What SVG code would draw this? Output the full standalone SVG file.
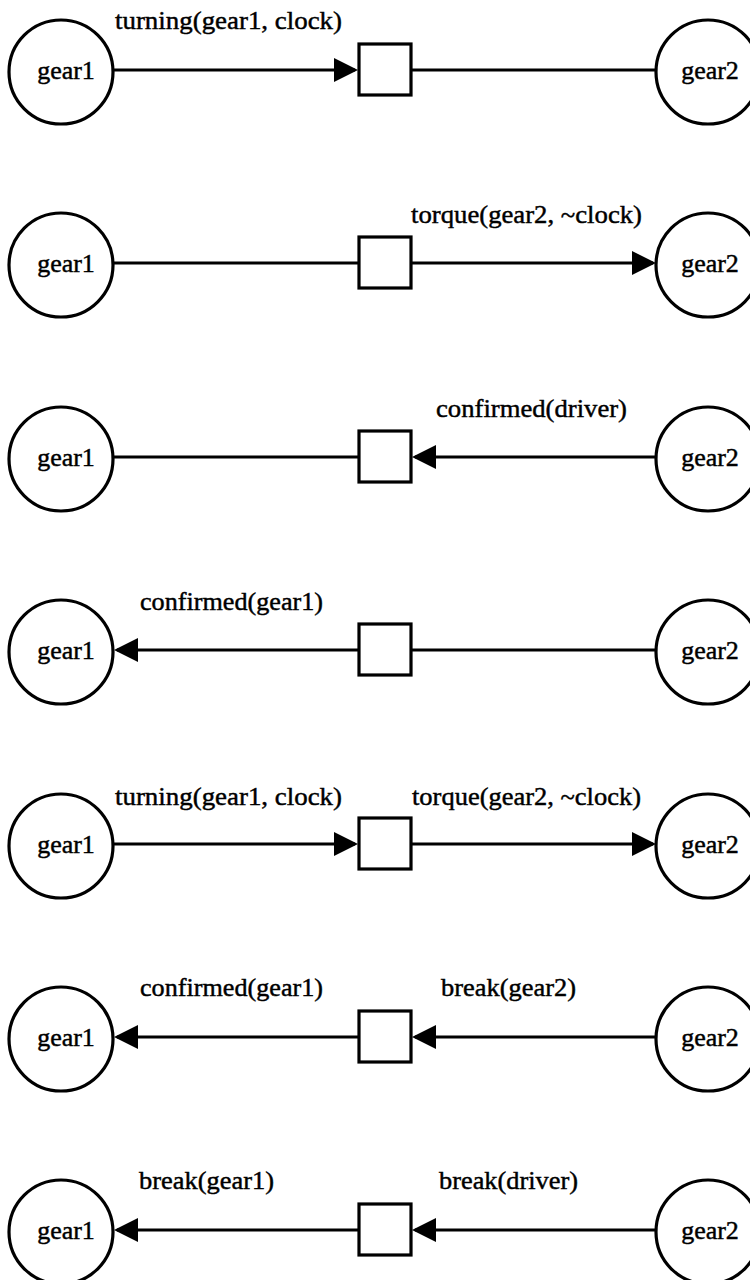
<svg xmlns="http://www.w3.org/2000/svg" width="750" height="1280" viewBox="0 0 750 1280">
  <style>
    .gear { fill: #fff; stroke: #000; stroke-width: 3.2; }
    .box { fill: #fff; stroke: #000; stroke-width: 3.2; }
    .edge { stroke: #000; stroke-width: 3; fill: none; }
    .arrow { stroke: #000; stroke-width: 3; fill: none; marker-end: url(#head); }
    text { font-family: "Liberation Serif", "Times New Roman", serif; font-size: 26px; fill: #000; stroke: #000; stroke-width: 0.45; }
    .name { text-anchor: middle; }
  </style>
  <defs>
    <marker id="head" markerUnits="userSpaceOnUse" markerWidth="26" markerHeight="26" refX="21" refY="12" orient="auto">
      <path d="M0,0 L24,12 L0,24 z" fill="#000"/>
    </marker>
  </defs>

  <!-- row 1: gear1 -> box -->
  <g id="row1" transform="translate(0,70)">
    <g id="connectors1">
      <line class="arrow" x1="113" y1="0" x2="355" y2="0"/>
      <line class="edge" x1="411" y1="0" x2="656" y2="0"/>
    </g>
    <g id="r1-gear1"><circle class="gear" cx="61" cy="2" r="52"/><text class="name" x="66" y="9">gear1</text></g>
    <g id="r1-box"><rect class="box" x="359" y="-26" width="52" height="51"/></g>
    <g id="r1-gear2"><circle class="gear" cx="708" cy="2" r="52"/><text class="name" x="710" y="9">gear2</text></g>
    <text x="115" y="-41" textLength="227" lengthAdjust="spacingAndGlyphs">turning(gear1, clock)</text>
  </g>

  <!-- row 2: box -> gear2 -->
  <g id="row2" transform="translate(0,263)">
    <g id="connectors2">
      <line class="edge" x1="113" y1="0" x2="359" y2="0"/>
      <line class="arrow" x1="411" y1="0" x2="653" y2="0"/>
    </g>
    <g id="r2-gear1"><circle class="gear" cx="61" cy="2" r="52"/><text class="name" x="66" y="9">gear1</text></g>
    <g id="r2-box"><rect class="box" x="359" y="-26" width="52" height="51"/></g>
    <g id="r2-gear2"><circle class="gear" cx="708" cy="2" r="52"/><text class="name" x="710" y="9">gear2</text></g>
    <text x="411" y="-40" textLength="231" lengthAdjust="spacingAndGlyphs">torque(gear2,  ~clock)</text>
  </g>

  <!-- row 3: gear2 -> box -->
  <g id="row3" transform="translate(0,457)">
    <g id="connectors3">
      <line class="edge" x1="113" y1="0" x2="359" y2="0"/>
      <line class="arrow" x1="656" y1="0" x2="415" y2="0"/>
    </g>
    <g id="r3-gear1"><circle class="gear" cx="61" cy="2" r="52"/><text class="name" x="66" y="9">gear1</text></g>
    <g id="r3-box"><rect class="box" x="359" y="-26" width="52" height="51"/></g>
    <g id="r3-gear2"><circle class="gear" cx="708" cy="2" r="52"/><text class="name" x="710" y="9">gear2</text></g>
    <text x="436" y="-40" textLength="191" lengthAdjust="spacingAndGlyphs">confirmed(driver)</text>
  </g>

  <!-- row 4: box -> gear1 -->
  <g id="row4" transform="translate(0,650)">
    <g id="connectors4">
      <line class="arrow" x1="359" y1="0" x2="117" y2="0"/>
      <line class="edge" x1="411" y1="0" x2="656" y2="0"/>
    </g>
    <g id="r4-gear1"><circle class="gear" cx="61" cy="2" r="52"/><text class="name" x="66" y="9">gear1</text></g>
    <g id="r4-box"><rect class="box" x="359" y="-26" width="52" height="51"/></g>
    <g id="r4-gear2"><circle class="gear" cx="708" cy="2" r="52"/><text class="name" x="710" y="9">gear2</text></g>
    <text x="140" y="-40" textLength="183" lengthAdjust="spacingAndGlyphs">confirmed(gear1)</text>
  </g>

  <!-- row 5: gear1 -> box -> gear2 -->
  <g id="row5" transform="translate(0,844)">
    <g id="connectors5">
      <line class="arrow" x1="113" y1="0" x2="355" y2="0"/>
      <line class="arrow" x1="411" y1="0" x2="653" y2="0"/>
    </g>
    <g id="r5-gear1"><circle class="gear" cx="61" cy="2" r="52"/><text class="name" x="66" y="9">gear1</text></g>
    <g id="r5-box"><rect class="box" x="359" y="-26" width="52" height="51"/></g>
    <g id="r5-gear2"><circle class="gear" cx="708" cy="2" r="52"/><text class="name" x="710" y="9">gear2</text></g>
    <text x="115" y="-39" textLength="227" lengthAdjust="spacingAndGlyphs">turning(gear1, clock)</text>
    <text x="412" y="-39" textLength="229" lengthAdjust="spacingAndGlyphs">torque(gear2, ~clock)</text>
  </g>

  <!-- row 6: gear2 -> box -> gear1 -->
  <g id="row6" transform="translate(0,1037)">
    <g id="connectors6">
      <line class="arrow" x1="359" y1="0" x2="117" y2="0"/>
      <line class="arrow" x1="656" y1="0" x2="415" y2="0"/>
    </g>
    <g id="r6-gear1"><circle class="gear" cx="61" cy="2" r="52"/><text class="name" x="66" y="9">gear1</text></g>
    <g id="r6-box"><rect class="box" x="359" y="-26" width="52" height="51"/></g>
    <g id="r6-gear2"><circle class="gear" cx="708" cy="2" r="52"/><text class="name" x="710" y="9">gear2</text></g>
    <text x="140" y="-41" textLength="183" lengthAdjust="spacingAndGlyphs">confirmed(gear1)</text>
    <text x="441" y="-41" textLength="135" lengthAdjust="spacingAndGlyphs">break(gear2)</text>
  </g>

  <!-- row 7: gear2 -> box -> gear1 -->
  <g id="row7" transform="translate(0,1230)">
    <g id="connectors7">
      <line class="arrow" x1="359" y1="0" x2="117" y2="0"/>
      <line class="arrow" x1="656" y1="0" x2="415" y2="0"/>
    </g>
    <g id="r7-gear1"><circle class="gear" cx="61" cy="2" r="52"/><text class="name" x="66" y="9">gear1</text></g>
    <g id="r7-box"><rect class="box" x="359" y="-26" width="52" height="51"/></g>
    <g id="r7-gear2"><circle class="gear" cx="708" cy="2" r="52"/><text class="name" x="710" y="9">gear2</text></g>
    <text x="139" y="-41" textLength="135" lengthAdjust="spacingAndGlyphs">break(gear1)</text>
    <text x="439" y="-41" textLength="139" lengthAdjust="spacingAndGlyphs">break(driver)</text>
  </g>
</svg>
